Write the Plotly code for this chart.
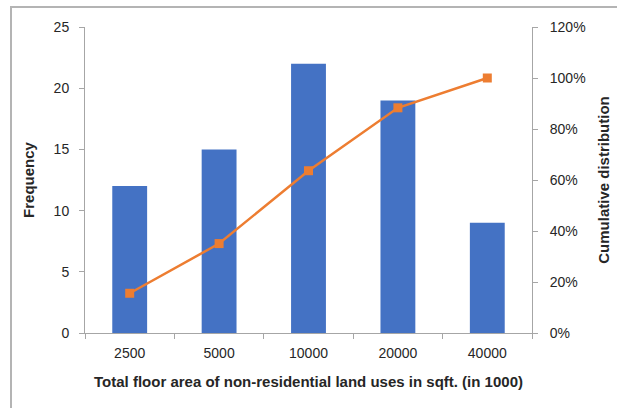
import plotly.graph_objects as go

# Floor-area classes (in 1000 sqft) and the number of parcels in each
floor_area = ["2500", "5000", "10000", "20000", "40000"]
frequency = [12, 15, 22, 19, 9]

# Running share of all parcels up to each class
total = sum(frequency)
cumulative = []
running = 0
for f in frequency:
    running += f
    cumulative.append(running / total)

BLUE = "#4472C4"
ORANGE = "#ED7D31"
AXIS_GREY = "#A6A6A6"
TEXT = "#262626"
FONT = "Liberation Sans, Arial, sans-serif"

fig = go.Figure()

fig.add_trace(go.Bar(
    x=floor_area, y=frequency, name="Frequency",
    marker=dict(color=BLUE, line=dict(width=0)),
    width=0.39,
))

fig.add_trace(go.Scatter(
    x=floor_area, y=cumulative, name="Cumulative distribution",
    yaxis="y2", mode="lines+markers",
    line=dict(color=ORANGE, width=2.5),
    marker=dict(symbol="square", size=9, color=ORANGE),
))

fig.update_layout(
    width=617, height=408,
    margin=dict(l=85, r=85, t=27, b=75),
    paper_bgcolor="white", plot_bgcolor="white",
    showlegend=False,
    font=dict(family=FONT, size=14, color=TEXT),
    xaxis=dict(
        type="category", automargin=False,
        showline=True, linecolor=AXIS_GREY, linewidth=1,
        ticks="outside", tickson="boundaries", ticklen=5, tickcolor=AXIS_GREY,
        ticklabelstandoff=7,
        showgrid=False, zeroline=False,
        tickfont=dict(size=14, color=TEXT),
        title=dict(text="<b>Total floor area of non-residential land uses in sqft. (in 1000)</b>",
                   font=dict(size=15, color=TEXT), standoff=16),
    ),
    yaxis=dict(
        range=[0, 25], dtick=5, automargin=False,
        showline=True, linecolor=AXIS_GREY, linewidth=1,
        ticks="outside", ticklen=5, tickcolor=AXIS_GREY,
        ticklabelstandoff=7,
        showgrid=False, zeroline=False,
        tickfont=dict(size=14, color=TEXT),
        title=dict(text="<b>Frequency</b>", font=dict(size=15, color=TEXT), standoff=15),
    ),
    yaxis2=dict(
        overlaying="y", side="right", automargin=False,
        range=[0, 1.2], dtick=0.2, tickformat=".0%",
        showline=True, linecolor=AXIS_GREY, linewidth=1,
        ticks="outside", ticklen=5, tickcolor=AXIS_GREY,
        ticklabelstandoff=9,
        showgrid=False, zeroline=False,
        tickfont=dict(size=14, color=TEXT),
        title=dict(text="<b>Cumulative distribution</b>", font=dict(size=15, color=TEXT), standoff=13),
    ),
    shapes=[dict(
        type="rect", xref="paper", yref="paper",
        x0=-74 / 447, x1=1.4, y0=-0.5, y1=1 + 20 / 306,
        line=dict(color="#B4B4B4", width=2), fillcolor="rgba(0,0,0,0)",
        layer="below",
    )],
)

fig.write_html("out.html")
